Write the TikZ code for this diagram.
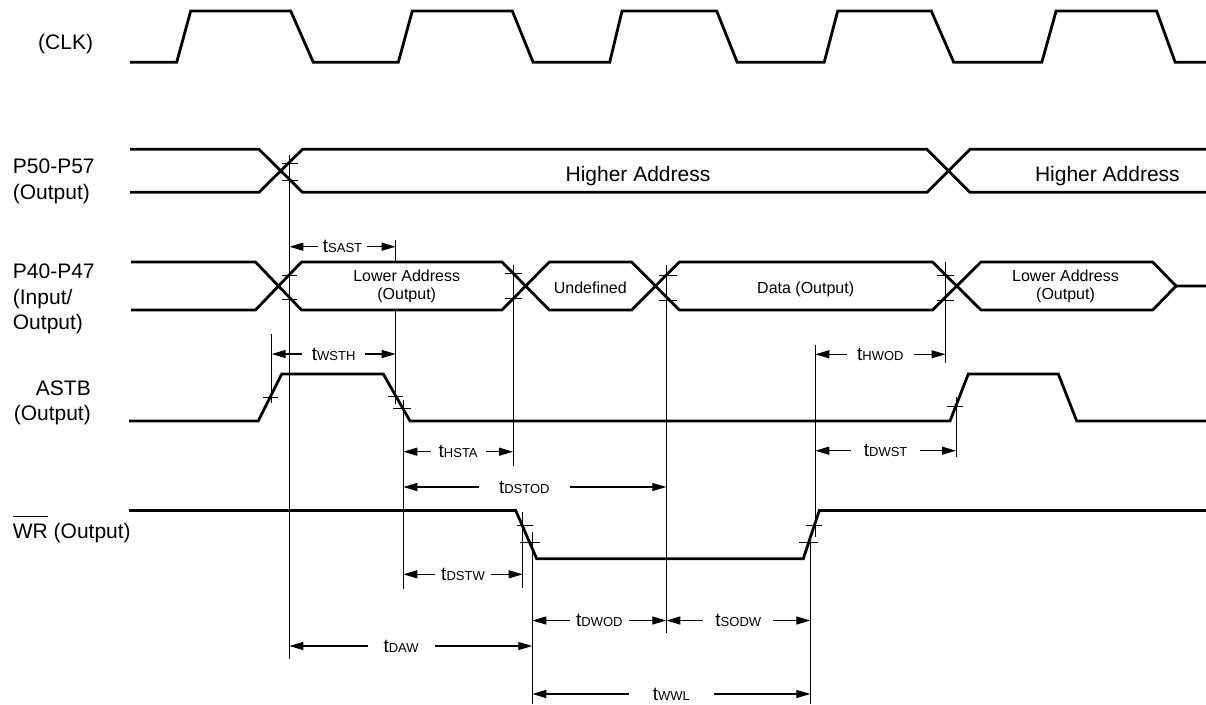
\documentclass[tikz,border=0pt]{standalone}
\usepackage{fontspec}
\setmainfont{Liberation Sans}
\usetikzlibrary{arrows.meta}

\newcommand{\tmlab}[1]{{\fontsize{19}{19}\selectfont t}{\fontsize{13}{13}\selectfont #1}}

\begin{document}
\begin{tikzpicture}
	[	x=1pt,y=-1pt,
	sigline/.style={line width=2.8pt},
	refline/.style={line width=0.9pt},
	dimarrow/.style={line width=1.1pt,{Triangle[length=14pt,width=8pt]}-{Triangle[length=14pt,width=8pt]}},
	tlab/.style={fill=white,inner ysep=0pt,inner xsep=#1},
	tlab/.default=8pt,
	signame/.style={font=\fontsize{21}{25.5}\selectfont,inner sep=0pt},
	buslab/.style={font=\fontsize{16}{18.3}\selectfont,inner sep=0pt,align=center}
	]
	\useasboundingbox (0,0) rectangle (1206,704);

	% signal names
	\node[signame,anchor=base west] (clk) at (38,49) {(CLK)};
	\node[signame,anchor=north west,align=left] (p5) at (12.7,159.1) {P50-P57\\(Output)};
	\node[signame,anchor=north west,align=left] (p4) at (12.7,263.8) {P40-P47\\(Input/\\Output)};
	\node[signame,anchor=north east,align=right] (astb) at (91,380.5) {ASTB\\(Output)};
	\node[signame,anchor=base west] (wr) at (12.7,538.3) {\vbox{\hrule height .9pt\kern6.5pt\hbox{WR}} (Output)};

	% CLK
	\draw[sigline] (130,62.3) -- (176.7,62.3) -- (190.7,11) -- (290.7,11) -- (313.3,62.3) -- (398.3,62.3) -- (412.3,11) -- (512.3,11) -- (533.1,62.3) -- (609.7,62.3) -- (622,11) -- (716.7,11) -- (737.2,62.3) -- (824.2,62.3) -- (837.7,11) -- (931.3,11) -- (953.7,62.3) -- (1041.8,62.3) -- (1056.1,11) -- (1156.6,11) -- (1175.2,62.3) -- (1206,62.3);

	% P50-P57
	\draw[sigline] (130,149.3) -- (259,149.3) -- (302.5,192.3) -- (927,192.3) -- (970,149.3) -- (1206,149.3);
	\draw[sigline] (130,192.3) -- (259,192.3) -- (302.5,149.3) -- (927,149.3) -- (970,192.3) -- (1206,192.3);
	\node[signame,anchor=base] (hi1) at (638,181.7) {Higher Address};
	\node[signame,anchor=base] (hi2) at (1107.4,181.7) {Higher Address};

	% P40-P47
	\draw[sigline] (131,262) -- (255.5,262) -- (301.5,310) -- (502,310) -- (549.3,262) -- (631.7,262) -- (679.3,310) -- (932.5,310) -- (981,262) -- (1152.7,262) -- (1176,286) -- (1206,286);
	\draw[sigline] (131,310) -- (255.5,310) -- (301.5,262) -- (502,262) -- (549.3,310) -- (631.7,310) -- (679.3,262) -- (932.5,262) -- (981,310) -- (1152.7,310) -- (1176,286);
	\node[buslab] (low1) at (406.7,286.5) {Lower Address\\(Output)};
	\node[buslab,anchor=base] (undef) at (590.3,293.5) {Undefined};
	\node[buslab,anchor=base] (data) at (805.7,293.5) {Data (Output)};
	\node[buslab] (low2) at (1065.5,286.5) {Lower Address\\(Output)};

	% ASTB
	\draw[sigline] (129,421) -- (258.3,421) -- (281.7,374) -- (383.3,374) -- (410,421) -- (950,421) -- (968.3,374) -- (1058.3,374) -- (1076.7,421) -- (1206,421);

	% WR
	\draw[sigline] (129,510.5) -- (515.7,510.5) -- (536.7,558.7) -- (803.3,558.7) -- (819.3,510.5) -- (1206,510.5);

	% reference lines and ticks
	\draw[refline] (289.3,155) -- (289.3,658.7);
	\draw[refline] (281.7,163.3) -- (298.3,163.3) (281.7,180.7) -- (298.3,180.7);
	\draw[refline] (281.7,275.7) -- (296.7,275.7) (281.7,299.3) -- (296.7,299.3);
	\draw[refline] (395.7,240) -- (395.7,262) (395.7,310) -- (395.7,404) (388,396.7) -- (403,396.7);
	\draw[refline] (271.7,334.3) -- (271.7,403.3) (263.3,397.3) -- (278.3,397.3);
	\draw[refline] (403.3,400) -- (403.3,589) (392.7,408.7) -- (410.7,408.7);
	\draw[refline] (513,265) -- (513,466) (505,273.3) -- (521.7,273.3) (505,298.3) -- (521.7,298.3);
	\draw[refline] (666.3,265) -- (666.3,632.7) (659,275) -- (677,275) (659,300) -- (677,300);
	\draw[refline] (945.5,261.7) -- (945.5,362.7) (936.7,275.7) -- (954,275.7) (936.7,300) -- (954,300);
	\draw[refline] (956,396.7) -- (956,456.7) (946.7,406) -- (962.7,406);
	\draw[refline] (522.7,511.7) -- (522.7,588) (517.3,525) -- (532.7,525);
	\draw[refline] (532.3,531.7) -- (532.3,704) (520,542.7) -- (540,542.7);
	\draw[refline] (815.3,344.7) -- (815.3,536.7) (806,525) -- (821.7,525);
	\draw[refline] (810.3,535) -- (810.3,704) (799.3,542.7) -- (817.7,542.7);

	% timing arrows
	\coordinate (sastA) at (289.3,246.7);  \coordinate (sastB) at (395.7,246.7);
	\coordinate (wsthA) at (271.7,354);    \coordinate (wsthB) at (395.7,354);
	\coordinate (hstaA) at (403.3,451.7);  \coordinate (hstaB) at (513,451.7);
	\coordinate (dstodA) at (403.3,487);   \coordinate (dstodB) at (666.3,487);
	\coordinate (dstwA) at (403.3,574.3);  \coordinate (dstwB) at (522.7,574.3);
	\coordinate (hwodA) at (815.3,354.3);  \coordinate (hwodB) at (945.5,354.3);
	\coordinate (dwstA) at (815.3,450.7);  \coordinate (dwstB) at (956,450.7);
	\coordinate (dwodA) at (532.3,620.5);  \coordinate (dwodB) at (666.3,620.5);
	\coordinate (sodwB) at (810.3,620.5);
	\coordinate (dawA) at (289.3,646);     \coordinate (dawB) at (532.3,646);
	\coordinate (wwlA) at (532.3,694);     \coordinate (wwlB) at (810.3,694);

	\draw[dimarrow] (sastA) -- node[tlab=5pt] (sast) {\tmlab{SAST}} (sastB);
	\draw[dimarrow] (wsthA) -- node[tlab=10pt] (wsth) {\tmlab{WSTH}} (wsthB);
	\draw[dimarrow] (hstaA) -- node[tlab=8pt] (hsta) {\tmlab{HSTA}} (hstaB);
	\draw[dimarrow] (dstodA) -- node[tlab=20pt,pos=.46] (dstod) {\tmlab{DSTOD}} (dstodB);
	\draw[dimarrow] (dstwA) -- node[tlab=6pt] (dstw) {\tmlab{DSTW}} (dstwB);
	\draw[dimarrow] (hwodA) -- node[tlab=10pt] (hwod) {\tmlab{HWOD}} (hwodB);
	\draw[dimarrow] (dwstA) -- node[tlab=13pt] (dwst) {\tmlab{DWST}} (dwstB);
	\draw[dimarrow] (dwodA) -- node[tlab=6pt] (dwod) {\tmlab{DWOD}} (dwodB);
	\draw[dimarrow] (dwodB) -- node[tlab=12pt] (sodw) {\tmlab{SODW}} (sodwB);
	\draw[dimarrow] (dawA) -- node[tlab=16pt,pos=.46] (daw) {\tmlab{DAW}} (dawB);
	\draw[dimarrow] (wwlA) -- node[tlab=24pt] (wwl) {\tmlab{WWL}} (wwlB);
\end{tikzpicture}
\end{document}
